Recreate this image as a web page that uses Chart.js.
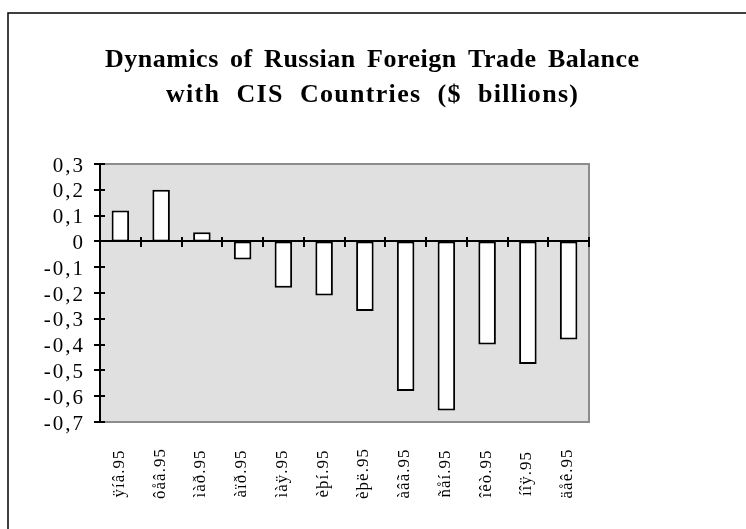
<!DOCTYPE html>
<html>
<head>
<meta charset="utf-8">
<script src="https://cdn.jsdelivr.net/npm/chart.js@4/dist/chart.umd.min.js"></script>
<style>
  html, body { margin: 0; padding: 0; background: #ffffff; }
  #wrap { width: 746px; height: 529px; position: relative; }
</style>
</head>
<body>
<div id="wrap"><canvas id="c" width="746" height="529"></canvas></div>
<script>
// Monthly trade balance, 1995 ($ billions)
const months = ['ÿíâ.95', 'ôåâ.95', 'ìàð.95', 'àïð.95', 'ìàÿ.95', 'èþí.95',
                'èþë.95', 'àâã.95', 'ñåí.95', 'îêò.95', 'íîÿ.95', 'äåê.95'];
const balance = [0.12, 0.20, 0.035, -0.07, -0.18, -0.21,
                 -0.27, -0.58, -0.655, -0.40, -0.475, -0.38];
const titleLines = ['Dynamics of Russian Foreign Trade Balance',
                    'with CIS Countries ($ billions)'];
const yMin = -0.7, yMax = 0.3, yStep = 0.1;

const serif = '"Liberation Serif", "Times New Roman", serif';

function fmt(v) {
  const r = Math.round(v * 10) / 10;
  return r === 0 ? '0' : r.toFixed(1).replace('.', ',');
}

// text with a little letter spacing, words pushed apart to fill a width
function spreadText(ctx, text, cx, y, width, letter) {
  ctx.letterSpacing = letter + 'px';
  ctx.wordSpacing = '0px';
  const w = ctx.measureText(text).width - letter;
  const gaps = text.split(' ').length - 1;
  const ws = Math.max(0, (width - w) / gaps);
  ctx.wordSpacing = ws + 'px';
  ctx.textAlign = 'left';
  ctx.fillText(text, cx - width / 2, y);
  ctx.letterSpacing = '0px';
  ctx.wordSpacing = '0px';
}

// Frame, title, plot-area background, axes and their labels
const decor = {
  id: 'decor',
  beforeDraw(chart) {
    const { ctx, chartArea: a } = chart;
    ctx.save();
    ctx.fillStyle = '#ffffff';
    ctx.fillRect(0, 0, chart.width, chart.height);
    // outer frame
    ctx.strokeStyle = '#000000';
    ctx.lineWidth = 1.5;
    ctx.beginPath();
    ctx.moveTo(8, chart.height + 5);
    ctx.lineTo(8, 13);
    ctx.lineTo(chart.width + 5, 13);
    ctx.stroke();
    // title
    ctx.fillStyle = '#000000';
    ctx.font = 'bold 26px ' + serif;
    ctx.textBaseline = 'alphabetic';
    spreadText(ctx, titleLines[0], 372, 67, 534, 0.5);
    spreadText(ctx, titleLines[1], 372, 102, 412, 1.3);
    // plot area
    ctx.fillStyle = '#e0e0e0';
    ctx.fillRect(a.left, a.top, a.right - a.left, a.bottom - a.top);
    ctx.strokeStyle = '#8c8c8c';
    ctx.lineWidth = 2;
    ctx.strokeRect(a.left, a.top, a.right - a.left, a.bottom - a.top);
    ctx.restore();
  },
  afterDatasetsDraw(chart) {
    const { ctx, chartArea: a, scales: { x, y } } = chart;
    ctx.save();
    ctx.strokeStyle = '#000000';
    ctx.lineWidth = 2;
    // value axis with crossing ticks
    ctx.beginPath();
    ctx.moveTo(a.left, a.top);
    ctx.lineTo(a.left, a.bottom);
    y.ticks.forEach(t => {
      const py = Math.round(y.getPixelForValue(t.value));
      ctx.moveTo(a.left - 6, py);
      ctx.lineTo(a.left + 5, py);
    });
    ctx.stroke();
    // zero line with category separators
    const y0 = Math.round(y.getPixelForValue(0));
    ctx.beginPath();
    ctx.moveTo(a.left, y0);
    ctx.lineTo(a.right, y0);
    const half = (x.getPixelForValue(1) - x.getPixelForValue(0)) / 2;
    for (let i = 0; i < months.length; i++) {
      const px = Math.round(x.getPixelForValue(i) + half);
      ctx.moveTo(px, y0 - 4);
      ctx.lineTo(px, y0 + 6);
    }
    ctx.stroke();

    // value labels
    ctx.fillStyle = '#000000';
    ctx.font = '21px ' + serif;
    ctx.textBaseline = 'middle';
    ctx.textAlign = 'right';
    ctx.letterSpacing = '2px';
    y.ticks.forEach(t => {
      ctx.fillText(fmt(t.value), a.left - 17 + 2, y.getPixelForValue(t.value) + 2);
    });

    // month labels, rotated, centred in the band below the plot
    ctx.font = '17px ' + serif;
    ctx.letterSpacing = '1px';
    ctx.textAlign = 'center';
    ctx.textBaseline = 'middle';
    chart.data.labels.forEach((lab, i) => {
      ctx.save();
      ctx.translate(x.getPixelForValue(i) - 1, 474);
      ctx.rotate(-Math.PI / 2);
      ctx.fillText(lab, 0.5, 0);
      ctx.restore();
    });
    ctx.letterSpacing = '0px';
    ctx.restore();
  }
};

new Chart(document.getElementById('c'), {
  type: 'bar',
  data: {
    labels: months,
    datasets: [{
      data: balance,
      backgroundColor: '#ffffff',
      borderColor: '#000000',
      borderWidth: 2,
      borderSkipped: false,
      barPercentage: 0.43,
      categoryPercentage: 1.0
    }]
  },
  options: {
    responsive: false,
    animation: false,
    devicePixelRatio: 1,
    layout: { padding: { left: 0, right: 157, top: 164, bottom: 0 } },
    plugins: { legend: { display: false }, title: { display: false }, tooltip: { enabled: false } },
    scales: {
      x: {
        grid: { display: false, drawTicks: false },
        border: { display: false },
        ticks: { display: false },
        afterFit(s) { s.height = 107; }
      },
      y: {
        min: yMin, max: yMax,
        grid: { display: false, drawTicks: false },
        border: { display: false },
        ticks: { display: false, stepSize: yStep, callback: fmt },
        afterFit(s) { s.width = 100; }
      }
    }
  },
  plugins: [decor]
});
</script>
</body>
</html>
